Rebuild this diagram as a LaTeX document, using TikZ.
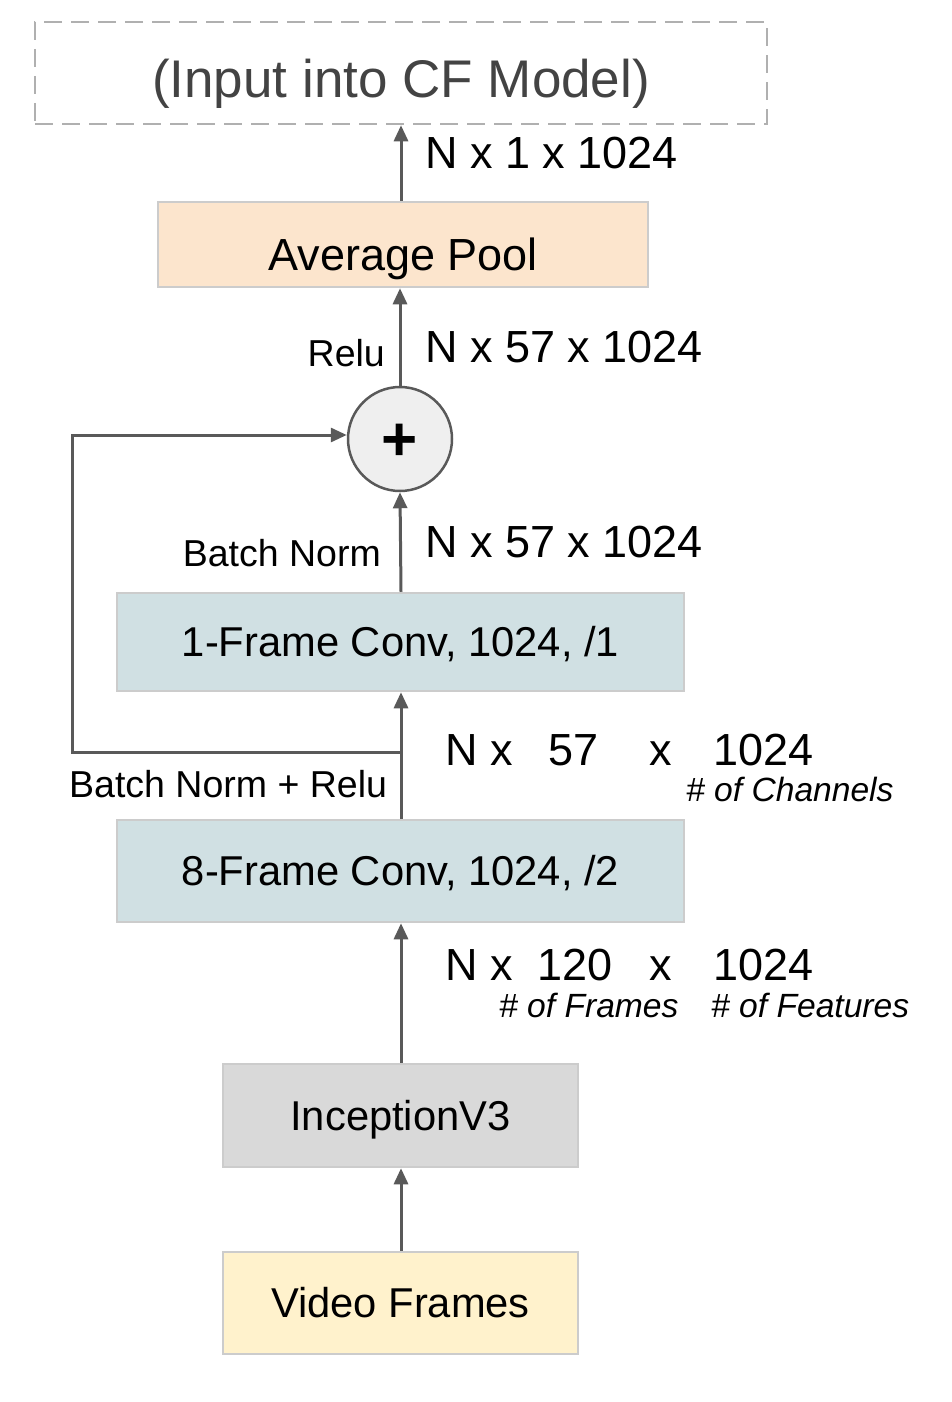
\documentclass[tikz,border=0pt]{standalone}
\usepackage{fontspec}
\setmainfont{Liberation Sans}
\usetikzlibrary{arrows.meta}
\definecolor{arrgray}{HTML}{595959}
\definecolor{boxline}{HTML}{CCCCCC}
\definecolor{dashgray}{HTML}{B0B0B0}
\definecolor{peach}{HTML}{FCE5CD}
\definecolor{bluegray}{HTML}{D0E0E3}
\definecolor{lightgray}{HTML}{D9D9D9}
\definecolor{lightyellow}{HTML}{FFF2CC}
\definecolor{circfill}{HTML}{EFEFEF}
\definecolor{titlegray}{HTML}{434343}
\tikzset{
  arr/.style={draw=arrgray, line width=3pt, -{Triangle[width=14pt,length=16pt]}},
  blockbox/.style={draw=boxline, line width=2.5pt, inner sep=0pt, align=center,
    font=\fontsize{41.7}{48}\selectfont, text height=29.8pt, text depth=0pt},
  dimlab/.style={inner sep=0pt, font=\fontsize{45}{50}\selectfont},
  oplab/.style={inner sep=0pt, font=\fontsize{37.5}{44}\selectfont},
  notelab/.style={inner sep=0pt, font=\fontsize{33.6}{40}\selectfont\itshape},
}
\begin{document}
\begin{tikzpicture}[x=1pt,y=-1pt]
\useasboundingbox (0,0) rectangle (952,1402);
% boxes
\node[draw=dashgray, line width=2.5pt, dash pattern=on 18pt off 9pt, minimum width=732pt, minimum height=102pt,
  inner sep=0pt, text=titlegray, font=\fontsize{53}{60}\selectfont, text height=50pt, text depth=0pt]
  (cf) at (401,73) {(Input into CF Model)};
\node[blockbox, fill=peach, minimum width=490pt, minimum height=85pt, font=\fontsize{45}{52}\selectfont, text height=52pt]
  (avg) at (403,244.5) {Average Pool};
\node[circle, draw=arrgray, line width=2.5pt, fill=circfill, minimum size=104pt, inner sep=0pt,
  font=\fontsize{62}{66}\selectfont\bfseries, text height=43pt, text depth=0pt]
  (plus) at (400,439) {+};
\node[blockbox, fill=bluegray, minimum width=567pt, minimum height=98pt] (conv1) at (400.5,642) {1-Frame Conv, 1024, /1};
\node[blockbox, fill=bluegray, minimum width=567pt, minimum height=102pt] (conv8) at (400.5,871) {8-Frame Conv, 1024, /2};
\node[blockbox, fill=lightgray, minimum width=355pt, minimum height=103pt] (incep) at (400.5,1115.5) {InceptionV3};
\node[blockbox, fill=lightyellow, minimum width=355pt, minimum height=102pt] (video) at (400.5,1303) {Video Frames};
% connectors
\coordinate (split) at (401,752);
\coordinate (corner) at (72,752);
\draw[arr] (video.north -| split) -- (incep.south -| split);
\draw[arr] (incep.north -| split) -- (conv8.south -| split);
\draw[arr] (conv8.north -| split) -- (conv1.south -| split);
\draw[arr] (conv1.north -| split) -- (plus.south);
\draw[arr] (plus.north) -- (avg.south -| plus);
\draw[arr] (avg.north -| split) -- (cf.south -| split);
\draw[arr] (split) -- (corner) |- ([yshift=4pt]plus.west);
% labels
\node[dimlab, anchor=base west] (d1) at (425,168) {N x 1 x 1024};
\node[dimlab, anchor=base west] (d2) at (425,362) {N x 57 x 1024};
\node[oplab, anchor=base east] (relu) at (385,366) {Relu};
\node[oplab, anchor=base east] (bn) at (381,566) {Batch Norm};
\node[dimlab, anchor=base west] (d3) at (425,557) {N x 57 x 1024};
\node[oplab, anchor=base west] (bnr) at (69,797) {Batch Norm + Relu};
\node[dimlab, anchor=base west] (r1a) at (445,765) {N x};
\node[dimlab, anchor=base] (r1b) at (573.5,765) {57};
\node[dimlab, anchor=base] (r1c) at (661,765) {x};
\node[dimlab, anchor=base west] (r1d) at (713,765) {1024};
\node[notelab, anchor=base west] (chan) at (686,801) {\# of Channels};
\node[dimlab, anchor=base west] (r2a) at (445,980) {N x};
\node[dimlab, anchor=base] (r2b) at (575,980) {120};
\node[dimlab, anchor=base] (r2c) at (661,980) {x};
\node[dimlab, anchor=base west] (r2d) at (713,980) {1024};
\node[notelab, anchor=base west] (frm) at (499,1017) {\# of Frames};
\node[notelab, anchor=base west] (feat) at (711,1017) {\# of Features};
\end{tikzpicture}
\end{document}
